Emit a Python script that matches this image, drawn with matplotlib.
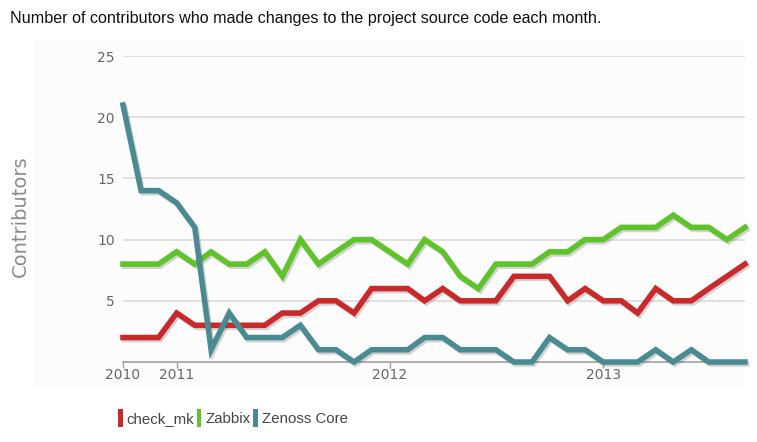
from matplotlib import pyplot as plt
from matplotlib import patheffects as pe
from matplotlib.patches import Rectangle, Patch
import pandas as pd

months = pd.date_range('2010-10-01', periods=36, freq='MS')

check_mk = [2, 2, 2, 4, 3, 3, 3, 3, 3, 4, 4, 5, 5, 4, 6, 6, 6, 5,
            6, 5, 5, 5, 7, 7, 7, 5, 6, 5, 5, 4, 6, 5, 5, 6, 7, 8]
zabbix = [8, 8, 8, 9, 8, 9, 8, 8, 9, 7, 10, 8, 9, 10, 10, 9, 8, 10,
          9, 7, 6, 8, 8, 8, 9, 9, 10, 10, 11, 11, 11, 12, 11, 11, 10, 11]
zenoss = [21, 14, 14, 13, 11, 1, 4, 2, 2, 2, 3, 1, 1, 0, 1, 1, 1, 2,
          2, 1, 1, 1, 0, 0, 2, 1, 1, 0, 0, 0, 1, 0, 1, 0, 0, 0]

series_names = ['check_mk', 'Zabbix', 'Zenoss Core']
series_colors = ['#c9292b', '#5ec42a', '#4a8a92']
year_ticks = [months[0], pd.Timestamp('2011-01-01'),
              pd.Timestamp('2012-01-01'), pd.Timestamp('2013-01-01')]
year_labels = ['2010', '2011', '2012', '2013']
y_ticks = [5, 10, 15, 20, 25]

W, H = 757, 442
fig = plt.figure(figsize=(W / 100, H / 100), dpi=100)

# faint panel behind the plot
panel = fig.add_axes([33 / W, 1 - 387 / H, (745 - 33) / W, (387 - 40) / H], zorder=-5)
panel.axis('off')
panel.add_patch(Rectangle((0, 0), 1, 1, transform=panel.transAxes,
                          facecolor='#fcfcfc', edgecolor='none'))

ax = fig.add_axes([123 / W, 1 - 362 / H, (745 - 123) / W, (362 - 56) / H])
ax.patch.set_alpha(0)

shadow = [pe.SimpleLineShadow(offset=(1.2, -1.5), alpha=0.25, shadow_color='#555'),
          pe.Normal()]
for values, color in zip([check_mk, zabbix, zenoss], series_colors):
    ax.plot(months, values, color=color, linewidth=4, solid_joinstyle='miter',
            clip_on=False, path_effects=shadow, zorder=3)

ax.set_xlim(months[0], months[-1])
ax.set_ylim(0, 25)
ax.set_yticks(y_ticks)
ax.set_yticklabels([str(v) for v in y_ticks])
ax.set_xticks(year_ticks)
ax.set_xticklabels(year_labels)
ax.grid(axis='y', color='#dddddd', linewidth=1.3, zorder=1)
ax.set_axisbelow(True)

for side in ['top', 'right', 'left']:
    ax.spines[side].set_visible(False)
ax.spines['bottom'].set_color('#a0a0a0')
ax.spines['bottom'].set_linewidth(1.2)
ax.tick_params(axis='y', length=0, pad=6, labelsize=10, labelcolor='#666666')
ax.tick_params(axis='x', length=4, width=1, color='#a0a0a0', pad=0.5,
               labelsize=10, labelcolor='#666666')

fig.text(20 / W, 1 - 216 / H, 'Contributors', rotation=90, fontsize=14,
         color='#8a8a8a', ha='center', va='center')
fig.text(10 / W, 1 - 18 / H,
         'Number of contributors who made changes to the project source code each month.',
         fontsize=11.6, color='#111111', ha='left', va='center',
         family='Liberation Sans')

handles = [Patch(facecolor=c, edgecolor='none') for c in series_colors]
leg = fig.legend(handles, series_names, loc='center left',
                 bbox_to_anchor=(118 / W, 1 - 418 / H), ncol=3, frameon=False,
                 borderpad=0, borderaxespad=0,
                 handlelength=0.3, handleheight=1.5, handletextpad=0.25,
                 columnspacing=0.2, fontsize=10.8)
for t in leg.get_texts():
    t.set_color('#444444')
    t.set_family('Liberation Sans')

fig.savefig('out.png', dpi=100)
